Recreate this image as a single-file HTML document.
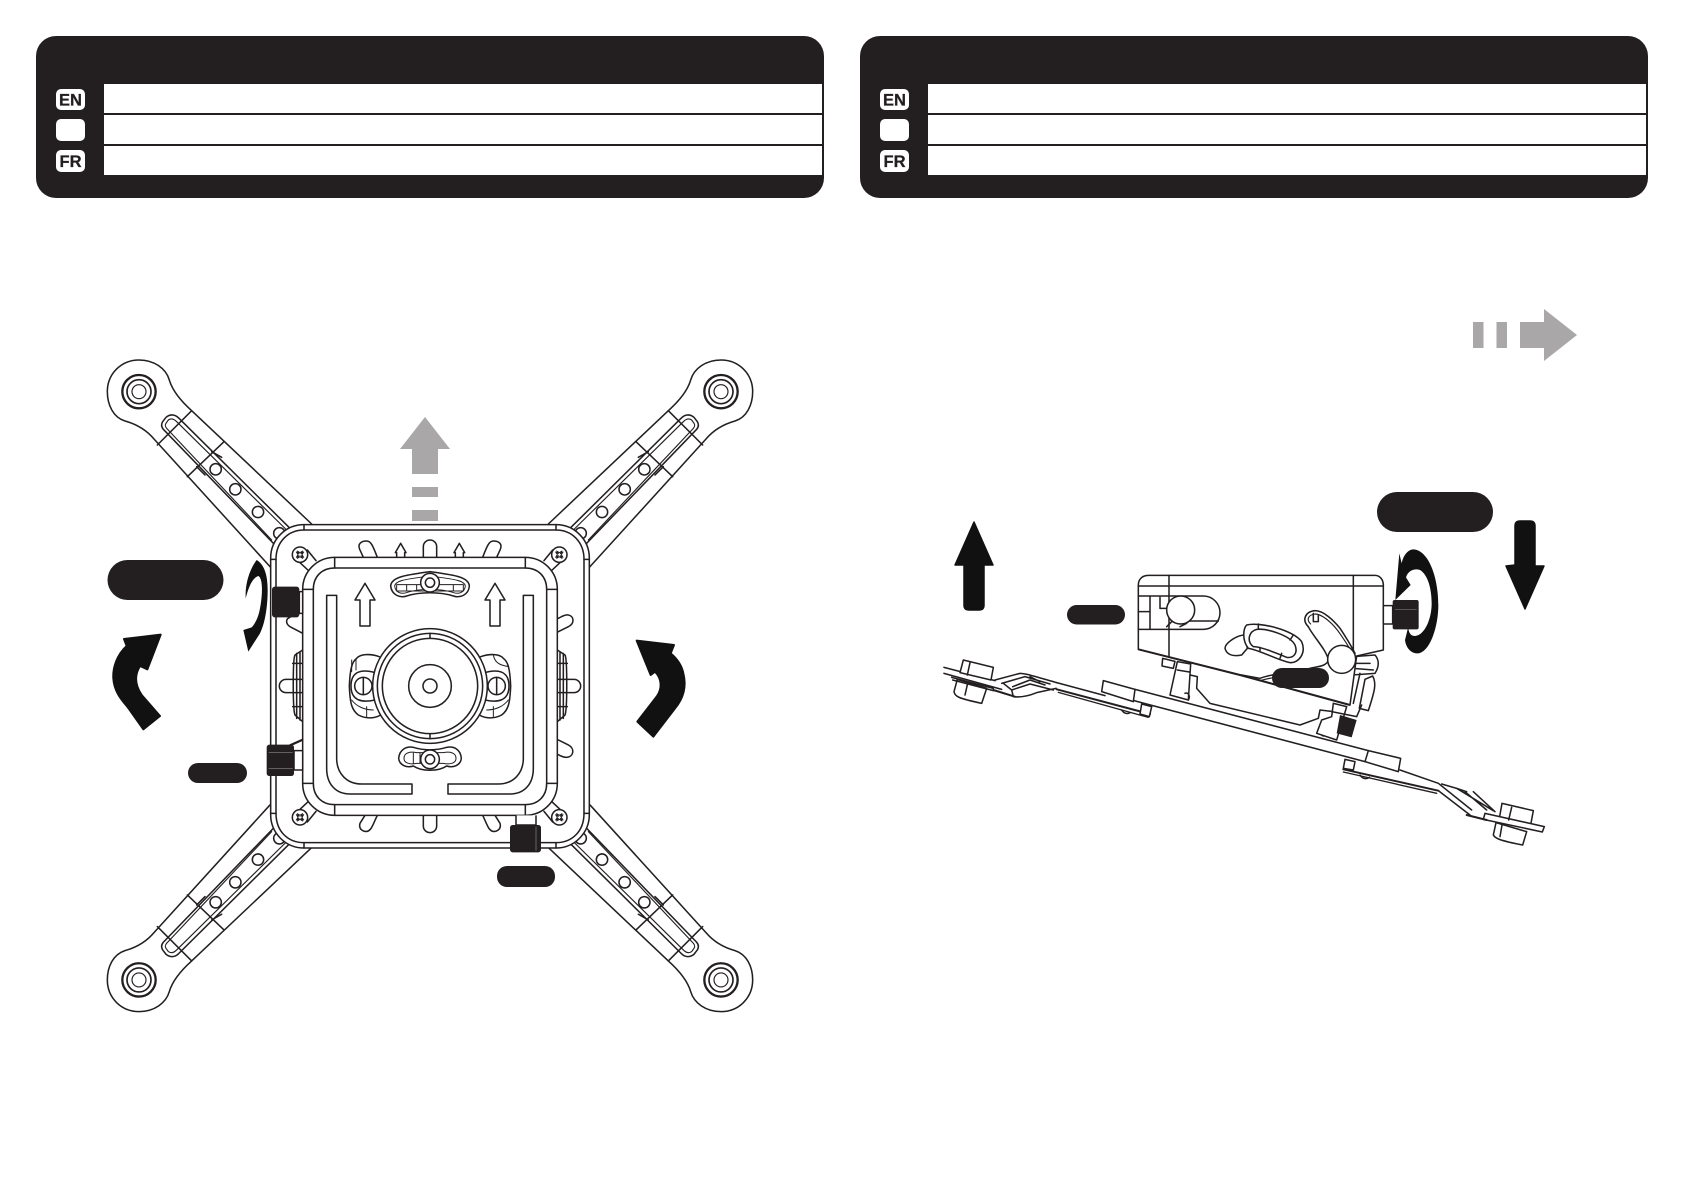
<!DOCTYPE html>
<html><head><meta charset="utf-8"><style>
html,body{margin:0;padding:0;background:#fff}
svg{display:block}
.l{fill:none;stroke:#231f20;stroke-width:4.6;stroke-linejoin:round;stroke-linecap:round}
.w{fill:#fff;stroke:#231f20;stroke-width:4.6;stroke-linejoin:round}
.t{font:bold 16.5px "Liberation Sans",sans-serif;fill:#231f20;text-anchor:middle;stroke:#231f20;stroke-width:.3}
</style></head><body>
<svg width="1685" height="1192" viewBox="0 0 1685 1192" xmlns="http://www.w3.org/2000/svg">
<rect width="1685" height="1192" fill="#fff"/>
<defs>
<g id="hdr">
<rect x="36" y="36" width="788" height="162" rx="20" fill="#231f20"/>
<rect x="104" y="84" width="718" height="29" fill="#fff"/>
<rect x="104" y="115" width="718" height="29" fill="#fff"/>
<rect x="104" y="146" width="718" height="29" fill="#fff"/>
<rect x="56" y="89" width="29" height="21" rx="5" fill="#fff"/>
<rect x="56" y="119" width="29" height="22" rx="5" fill="#fff"/>
<rect x="56" y="150" width="29" height="22" rx="5" fill="#fff"/>
</g>
<g id="arm" transform="translate(80,340) scale(.33333)">
<path class="w" d="M570,680 L222,297 C195,265 160,250 135,243 C100,232 82,195 82,155 C82,100 125,60 177,60 C222,60 258,85 268,120 C278,155 305,185 335,212 L695,552 Z"/>
<path class="l" d="M232,315 L335,212 M322,410 L432,305"/>
<path class="l" d="M630,565 L297,235 C285,222 270,222 258,232 L248,245 C242,255 245,262 250,268 L582,612"/>
<path class="l" style="stroke-width:3.4" d="M620,570 L290,245 C280,235 272,235 265,240 L258,250 C254,256 256,260 260,265 L575,600"/>
<path class="l" d="M395,335 L425,352 M350,380 L375,405"/>
<circle class="l" cx="407" cy="388" r="17"/><circle class="l" cx="466" cy="448" r="17"/><circle class="l" cx="534" cy="516" r="17"/><circle class="l" cx="598" cy="580" r="17"/>
<circle class="l" cx="177" cy="155" r="50" style="stroke-width:7"/><circle class="l" cx="177" cy="155" r="36" style="stroke-width:5"/><circle class="l" cx="177" cy="155" r="21" style="stroke-width:3.5"/>
</g>
<g id="screw"><circle class="w" r="23"/><path class="l" style="stroke-width:3" d="M-11,-8 L-3,-3 L-8,-11 L0,-6 L8,-11 L3,-3 L11,-8 L6,0 L11,8 L3,3 L8,11 L0,6 L-8,11 L-3,3 L-11,8 L-6,0 Z"/></g>
</defs>

<use href="#hdr"/>
<use href="#hdr" x="824"/>
<text class="t" x="70.5" y="105.5">EN</text>
<text class="t" x="70.5" y="167">FR</text>
<text class="t" x="894.5" y="105.5">EN</text>
<text class="t" x="894.5" y="167">FR</text>

<!-- arms -->
<use href="#arm"/>
<use href="#arm" transform="translate(860,0) scale(-1,1)"/>
<use href="#arm" transform="translate(0,1371.6) scale(1,-1)"/>
<use href="#arm" transform="translate(860,1371.6) scale(-1,-1)"/>

<!-- mount -->
<g transform="translate(250,510) scale(.33333)">
<rect class="w" x="62" y="44" width="956" height="970" rx="100"/>
<path class="l" d="M162,60 H918 M162,44 V60 M918,44 V60 M162,998 H918 M162,998 V1014 M918,998 V1014 M78,148 V910 M1002,148 V910 M62,148 H78 M1002,148 H1018 M62,910 H78 M1002,910 H1018"/>
<path class="l" d="M78,148 C78,95 115,60 162,60 M1002,148 C1002,95 965,60 918,60 M78,910 C78,965 115,998 162,998 M1002,910 C1002,965 965,998 918,998"/>
<!-- tabs and slots -->
<path class="l" d="M172,120 L198,152 M150,158 L180,186 M908,120 L882,152 M930,158 L900,186 M172,936 L198,904 M150,898 L180,870 M908,936 L882,904 M930,898 L900,870"/>
<path class="l" d="M340,142 L329,118 C322,100 335,93 350,93 C362,93 368,105 382,142"/>
<path class="l" d="M740,142 L751,118 C758,100 745,93 730,93 C718,93 712,105 698,142"/>
<path class="l" d="M520,142 V110 A20,20 0 0 1 560,110 V142"/>
<path class="l" d="M440,142 V128 H436 L452,100 L468,128 H464 V142 M616,142 V128 H612 L628,100 L644,128 H640 V142"/>
<path class="l" d="M158,508 H108 A20,20 0 0 0 108,548 H158 M922,508 H972 A20,20 0 0 1 972,548 H922"/>
<path class="l" d="M158,370 L120,350 C105,340 108,325 120,322 M925,365 L955,350 C975,340 972,318 955,315 C945,313 935,320 925,325"/>
<path class="l" d="M925,690 L955,705 C975,715 972,740 950,742 C942,742 932,738 925,734 M158,690 L125,705"/>
<path class="l" d="M345,916 L330,940 C325,958 340,966 352,964 C365,960 368,945 382,916 M735,916 L750,940 C755,958 740,966 728,964 C715,960 712,945 698,916"/>
<path class="l" d="M520,916 V948 A20,20 0 0 0 560,948 V916"/>
<path class="l" d="M158,420 L135,435 C128,445 128,600 135,615 L158,635 M140,430 V625 M150,425 V630 M128,460 H158 M128,590 H158"/>
<path class="l" d="M922,420 L945,435 C952,445 952,600 945,615 L922,635 M940,430 V625 M930,425 V630 M952,460 H922 M952,590 H922"/>
<use href="#screw" x="150" y="134"/><use href="#screw" x="928" y="134"/><use href="#screw" x="150" y="922"/><use href="#screw" x="928" y="922"/>
<!-- inner frame -->
<rect class="w" x="158" y="142" width="764" height="774" rx="96"/>
<path class="l" d="M254,142 V174 M826,142 V174 M254,884 V916 M826,884 V916 M158,238 H190 M890,238 H922 M158,820 H190 M890,820 H922"/>
<path class="l" d="M190,238 C190,200 215,174 254,174 H826 C865,174 890,200 890,238 V820 C890,858 865,884 826,884 H254 C215,884 190,858 190,820 Z"/>
<!-- channels -->
<path class="l" d="M230,256 H260 V745 C260,790 290,822 335,822 H486 V852 H300 C255,852 230,820 230,775 Z"/>
<path class="l" d="M850,256 H820 V745 C820,790 790,822 745,822 H594 V852 H780 C825,852 850,820 850,775 Z"/>
<path class="l" d="M345,220 L375,270 H360 V348 H330 V270 H315 Z M735,220 L765,270 H750 V348 H720 V270 H705 Z"/>
<!-- top wing -->
<path class="l" d="M422,228 C424,200 470,195 540,185 C610,195 656,200 658,228 C656,255 630,265 610,258 C570,245 510,245 470,258 C450,265 425,255 422,228Z"/>
<path class="l" style="stroke-width:3" d="M434,228 C436,210 475,207 540,198 C605,207 644,210 646,228 C644,248 625,254 608,247 C570,235 510,235 472,247 C455,254 436,248 434,228Z"/>
<path class="l" style="stroke-width:3" d="M440,224 H640 V243 H440 Z M470,224 V243 M500,224 V243 M610,224 V243"/>
<circle class="w" cx="540" cy="218" r="28"/><circle class="w" cx="540" cy="218" r="14"/>
<!-- bottom wing -->
<path class="l" d="M446,745 C448,718 470,708 490,712 C520,722 560,722 590,712 C612,708 632,718 634,745 C632,765 610,775 590,768 C565,785 515,785 490,768 C470,775 448,765 446,745Z"/>
<path class="l" style="stroke-width:3" d="M462,745 C462,728 480,724 500,728 H580 C600,724 618,728 618,745 C618,760 600,764 580,760 H500 C480,764 462,760 462,745Z M490,728 V760 M510,728 V760"/>
<circle class="w" cx="540" cy="748" r="28"/><circle class="w" cx="540" cy="748" r="14"/>
<!-- ears -->
<path class="l" d="M388,440 C360,430 330,432 320,445 C305,455 300,480 298,528 C300,580 305,600 325,615 C350,628 375,625 392,615"/>
<path class="l" d="M692,440 C720,430 750,432 760,445 C775,455 780,480 782,528 C780,580 775,600 755,615 C730,628 705,625 688,615"/>
<path class="l" d="M375,488 C340,478 303,480 303,528 C303,575 340,578 375,570 M705,488 C740,478 777,480 777,528 C777,575 740,578 705,570"/>
<path class="l" style="stroke-width:3" d="M305,450 V485 M318,445 V480 M305,570 C320,590 345,600 370,600 M775,570 C760,590 735,600 710,600 M730,435 C735,460 750,465 775,470 M350,590 V622 M730,590 V622"/>
<circle class="w" cx="340" cy="528" r="26"/><circle class="w" cx="740" cy="528" r="26"/>
<path class="l" d="M340,502 V554 M740,502 V554"/>
<!-- hub -->
<circle class="w" cx="540" cy="528" r="172"/><circle class="l" cx="540" cy="528" r="158"/><circle class="l" cx="540" cy="528" r="143"/>
<circle class="l" cx="540" cy="528" r="64"/><circle class="l" cx="540" cy="528" r="21"/>
<path class="l" d="M540,370 V385 M540,671 V686"/>
<!-- knobs -->
<path class="w" d="M148,245 H158 V310 H148 Z"/>
<rect x="66" y="230" width="82" height="92" rx="8" fill="#231f20"/>
<path class="w" d="M132,722 H158 V780 H132 Z"/>
<path class="l" d="M120,705 L158,688"/>
<rect x="50" y="704" width="82" height="94" rx="8" fill="#231f20"/>
<path d="M56,727 H128 M56,775 H128" stroke="#888" stroke-width="2" fill="none"/>
<path class="w" d="M798,916 V945 H858 V916"/>
<rect x="780" y="945" width="93" height="82" rx="8" fill="#231f20"/>
<path d="M858,950 V1022" stroke="#888" stroke-width="2" fill="none"/>
</g>

<!-- left pills -->
<rect x="107.5" y="560" width="116" height="40" rx="20" fill="#231f20"/>
<rect x="188" y="763" width="59" height="20" rx="10" fill="#231f20"/>
<rect x="497" y="866" width="58" height="21" rx="10" fill="#231f20"/>

<!-- grey arrow up -->
<g fill="#a9a7a8">
<path d="M425,417 L450,449 H438 V474 H412 V449 H400 Z"/>
<rect x="412" y="487" width="26" height="10"/>
<rect x="412" y="510" width="26" height="11"/>
</g>

<!-- curved arrows -->
<g transform="translate(100,540) scale(.33333)" fill="#111">
<path stroke="#111" stroke-width="6" stroke-linejoin="round" d="M182,284 L72,297 L80,318 C50,345 38,385 40,415 C42,450 60,475 82,500 L130,568 L180,528 L125,465 C108,440 100,410 120,378 L142,388 Z"/>
<path d="M470,60 C455,80 435,120 437,175 C445,145 455,115 475,108 C490,115 488,170 478,215 C472,240 462,255 455,262 L430,270 L445,335 L480,280 C495,250 503,200 503,150 C503,110 495,75 470,60Z"/>
</g>
<g transform="translate(620,630) scale(.33333)" fill="#111">
<path stroke="#111" stroke-width="6" stroke-linejoin="round" d="M50,32 L92,135 L105,125 C125,145 128,175 110,200 L52,275 L100,320 L165,235 C190,205 200,170 190,130 C185,105 170,85 152,70 L162,45 Z"/>
</g>

<!-- grey arrow right -->
<g fill="#a9a7a8">
<rect x="1473" y="322" width="10.5" height="26"/>
<rect x="1496.5" y="322" width="10.5" height="26"/>
<path d="M1520,322 H1544 V309 L1577,335 L1544,361 V348 H1520 Z"/>
</g>

<!-- straight arrows -->
<g fill="#111" stroke="#111" stroke-width="1.5" stroke-linejoin="round">
<path d="M1515,565 V526 Q1515,521 1520,521 H1530 Q1535,521 1535,526 V566 H1544 L1525,609 L1506,566 Z"/>
<path d="M964,565 V605 Q964,610 969,610 H979 Q984,610 984,605 V565 H993 L974,522 L955,565 Z"/>
</g>

<!-- side view: plate and arm -->
<g transform="translate(930,640) scale(.33333)">
<path class="l" d="M42,82 L195,122 M42,100 L215,148"/>
<path class="w" d="M90,98 L100,60 L190,82 L183,120 Z"/>
<path class="l" d="M120,68 L112,105"/>
<path class="w" d="M82,118 L72,155 C75,170 85,175 155,190 L170,145 Z"/>
<path class="l" d="M105,165 L113,130 M65,112 L190,145 M68,120 L190,152"/>
<path class="l" d="M195,120 L270,100 C285,100 300,105 380,128 M215,130 L285,110 L360,132 M248,140 L300,120 L345,135 M250,170 C265,172 290,170 320,158 L378,145 M245,150 L300,132 L370,150 M220,130 L245,150 L250,170 M300,110 L330,125"/>
<path class="l" style="stroke-width:6" d="M190,150 L255,170"/>
<path class="l" d="M380,128 L525,167"/>
<path class="l" style="stroke-width:6" d="M380,148 L660,222"/>
<path class="l" style="stroke-width:4" d="M385,157 L655,232"/>
<path class="l" d="M575,210 C582,222 595,222 600,218"/>
</g>
<g transform="translate(1300,720) scale(.33333)">
<path class="l" d="M300,150 L415,190 L515,270 M415,212 L510,285"/>
<path class="l" style="stroke-width:6" d="M130,148 L415,212"/>
<path class="l" style="stroke-width:4" d="M130,156 L410,220"/>
<path class="l" d="M180,165 C188,178 200,178 208,172"/>
<path class="w" d="M135,118 L165,125 L160,150 L130,145 Z"/>
<path class="l" d="M425,192 L470,205 L580,272 M470,205 L500,215 M495,215 L560,270 M520,215 L585,275"/>
<path class="w" d="M598,295 L606,250 L700,272 L692,315 Z"/>
<path class="w" d="M588,308 L580,345 C585,355 600,362 668,375 L680,335 Z"/>
<path class="w" d="M555,280 L733,320 L727,336 L550,298 Z"/>
<path class="l" d="M635,262 L626,300 M600,350 L606,315"/>
<path class="l" style="stroke-width:6" d="M500,285 L560,300"/>
</g>
<g transform="translate(1060,560) scale(.33333)">
<!-- upper plate -->
<path class="w" d="M130,362 L225,388 L220,425 L125,395 Z"/>
<path class="w" d="M925,572 L1022,595 L1015,635 L915,605 Z"/>
<path class="l" d="M225,388 L925,572 M222,422 L915,605"/>
<path class="w" d="M245,432 L275,440 L268,470 L240,462 Z"/>
<!-- brackets -->
<path class="w" d="M308,295 L345,304 L340,325 L306,318 Z"/>
<path class="w" d="M352,305 L330,405 L385,420 L392,312 Z"/>
<path class="l" d="M352,330 L388,336 M390,345 L412,350 L410,385 L450,430 L720,495 L775,475 L780,450 L820,455 M375,400 C385,395 392,410 385,420 M775,510 C785,500 775,525 790,528"/>
<path class="w" d="M820,430 L860,440 L830,540 L770,520 L785,480 L815,470 Z"/>
<path d="M840,465 L890,480 L875,532 L830,520 Z" fill="#231f20"/>
<!-- right side bits -->
<path class="w" d="M880,290 L945,285 C958,300 958,320 945,340 L875,345 Z"/>
<path class="w" d="M915,358 L938,348 C950,370 945,390 925,452 L898,445 Z"/>
<path class="l" d="M890,310 H930 M880,325 L940,330 M815,455 L890,470 L905,435 M900,340 L880,430"/>
<!-- body -->
<path class="w" d="M235,268 V75 C235,55 250,46 265,46 H945 C960,46 970,60 970,75 V270 L890,288 L870,435 L540,345 Z"/>
<path d="M235,268 L540,345 L870,435" fill="none" stroke="#231f20" stroke-width="6"/>
<path class="l" d="M327,46 V290 M880,46 V285 M235,78 H970"/>
<path class="l" d="M235,108 H430 A50,50 0 0 1 430,208 H235 M370,183 H475 M235,155 H270 M270,108 V208 M300,112 V145 H320"/>
<circle class="w" cx="362" cy="150" r="42"/>
<path class="l" d="M320,200 L335,185 M360,200 L380,190"/>
<!-- kidney -->
<path class="w" d="M555,225 C530,225 495,250 495,265 C500,285 520,290 545,285 L562,265 Z"/>
<path class="w" d="M560,195 C600,185 700,210 725,245 C740,280 715,310 690,308 C650,300 600,270 565,265 C545,240 550,205 560,195Z"/>
<path class="l" d="M590,208 C620,205 690,225 705,255 C715,280 700,295 680,292 C640,275 600,260 580,260 C560,245 565,215 590,208Z M595,192 V208 M600,262 V272 M665,280 L660,295 M700,225 L690,240"/>
<!-- wire -->
<path class="l" d="M745,200 C725,180 735,155 765,152 C790,152 820,180 840,205 C860,235 875,260 885,280"/>
<path class="l" style="stroke-width:3.4" d="M752,192 C738,178 745,165 765,162 C785,162 812,185 832,210 C850,235 865,258 875,276"/>
<path class="l" d="M745,200 C760,230 800,270 805,300 C800,320 770,320 750,325 C700,335 640,340 600,355 L545,345"/>
<path class="l" style="stroke-width:3.4" d="M600,362 C640,350 700,345 750,335"/>
<path class="l" d="M760,160 V185 H775 V165"/>
<circle class="w" cx="845" cy="298" r="42"/>
</g>
<rect x="1067" y="605" width="58" height="19.5" rx="9.7" fill="#231f20"/>
<rect x="1272" y="668" width="57" height="20" rx="10" fill="#231f20"/>
<rect x="1377" y="492" width="116" height="40" rx="20" fill="#231f20"/>

<!-- side knob and rotation arrow -->
<g transform="translate(1370,540) scale(.33333)">
<path fill="#111" d="M88,40 L76,180 L122,135 L108,112 C115,90 135,85 150,90 C175,105 185,150 185,190 C185,235 165,285 135,288 C120,288 115,275 115,260 L105,300 C108,325 125,342 145,340 C180,335 205,260 205,195 C205,110 175,30 130,28 C115,28 100,45 95,70 Z"/>
<path class="w" d="M40,197 H68 V252 H40 Z"/>
<rect x="68" y="180" width="78" height="88" rx="6" fill="#231f20"/>
<path d="M75,208 H140" stroke="#777" stroke-width="2"/>
</g>
</svg>
</body></html>
